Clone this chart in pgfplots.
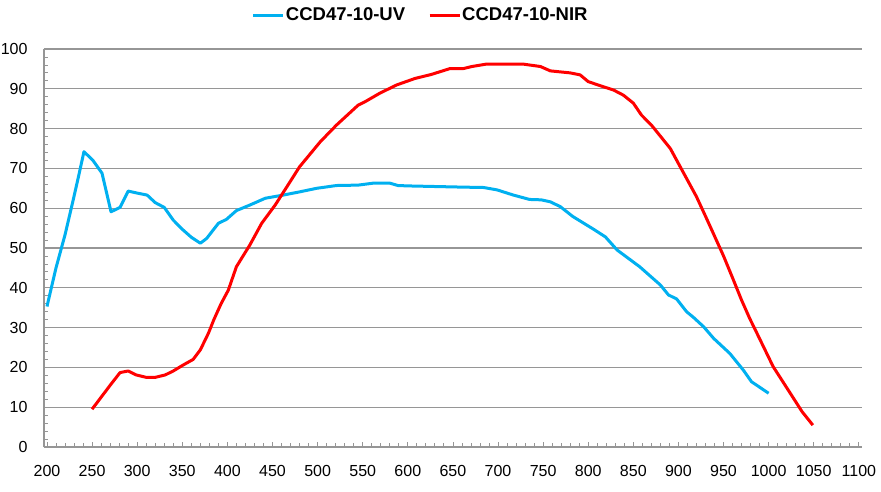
\documentclass[border=0pt]{standalone}
\usepackage{fontspec}
\setmainfont{Liberation Sans}
\usepackage{pgfplots}
\pgfplotsset{compat=1.18}
\definecolor{uvblue}{RGB}{0,176,240}
\definecolor{nirred}{RGB}{255,0,0}
\definecolor{gridgray}{RGB}{150,150,150}
\begin{document}
\begin{tikzpicture}
\path[use as bounding box] (-44pt,-44pt) rectangle (837pt,447pt);
\begin{axis}[
  scale only axis,
  width=818pt, height=398pt,
  xmin=196.7, xmax=1103.5,
  ymin=0, ymax=100,
  axis x line=bottom, axis y line=left,
  axis line style={-, gridgray, line width=1.6pt},
  xtick={200,250,...,1100},
  ytick={0,10,...,100},
  minor x tick num=4, minor y tick num=4,
  tick align=inside,
  major tick length=5pt, minor tick length=4pt,
  tick style={gridgray, line width=0.8pt},
  ymajorgrids,
  major grid style={gridgray, line width=1.3pt},
  /pgf/number format/assume math mode=true,
  /pgf/number format/1000 sep={},
  tick label style={font=\fontsize{16}{16}\selectfont},
  xticklabel style={yshift=-15pt},
  yticklabel style={xshift=-13pt},
  legend style={at={(rel axis cs:0.46,1.085)}, anchor=center, draw=none, fill=none,
    font=\fontsize{18.5}{18.5}\selectfont\bfseries, column sep=0pt,
    /tikz/every even column/.append style={column sep=22pt},
    nodes={inner sep=1pt}},
  legend columns=2,
  legend image code/.code={\draw[#1, line width=3pt] (0pt,0pt) -- (30pt,0pt);},
  clip=false,
]
\addplot[uvblue, line width=3pt, line join=round] coordinates {
(200,35.3) (210,45) (220,53.3) (229,62) (235,68) (241,74.2) (251,72) (261,68.8)
(271,59.1) (281,60.2) (290,64.3) (300,63.8) (311,63.3) (320,61.4) (330,60.2)
(340,57) (351,54.5) (360,52.7) (370,51.2) (377,52.4) (390,56.2) (399,57.2)
(410,59.4) (425,60.8) (442,62.5) (462,63.3) (480,64.1) (499,65) (521,65.7)
(545,65.8) (562,66.3) (580,66.3) (589,65.7) (600,65.6) (620,65.5) (640,65.4)
(660,65.3) (684,65.2) (699,64.6) (717,63.3) (735,62.2) (748,62.1) (758,61.6)
(769,60.4) (783,57.9) (806,54.7) (819,52.8) (832,49.5) (857,45.3) (880,40.7)
(889,38.2) (898,37.2) (909,34) (917,32.5) (928,30.2) (939,27.3) (957,23.5)
(972,19.3) (981,16.4) (1000,13.5)
};
\addlegendentry{CCD47-10-UV}
\addplot[nirred, line width=3pt, line join=round] coordinates {
(250,9.5) (260,12.5) (270,15.5) (281,18.7) (290,19.1) (299,18.1) (310,17.5)
(320,17.5) (331,18.1) (340,19.1) (351,20.6) (362,22) (370,24.4) (379,28.6)
(385,32) (393,36) (401,39.4) (410,45.3) (425,50.8) (438,56.2) (453,60.8)
(466,65.4) (480,70.4) (503,76.7) (521,80.9) (545,85.9) (553,86.8) (569,88.9)
(588,91) (608,92.6) (626,93.6) (647,95.1) (662,95.1) (671,95.6) (687,96.2)
(728,96.2) (747,95.6) (758,94.5) (780,94) (791,93.5) (800,91.8) (817,90.5)
(828,89.7) (839,88.4) (850,86.4) (859,83.4) (870,80.9) (891,75) (902,70.4)
(920,62.9) (931,57.5) (940,53) (950,48) (960,42.5) (970,36.9) (979,32.3)
(987,28.6) (1005,20.2) (1024,13.5) (1037,8.9) (1049,5.5)
};
\addlegendentry{CCD47-10-NIR}
\end{axis}
\end{tikzpicture}
\end{document}
